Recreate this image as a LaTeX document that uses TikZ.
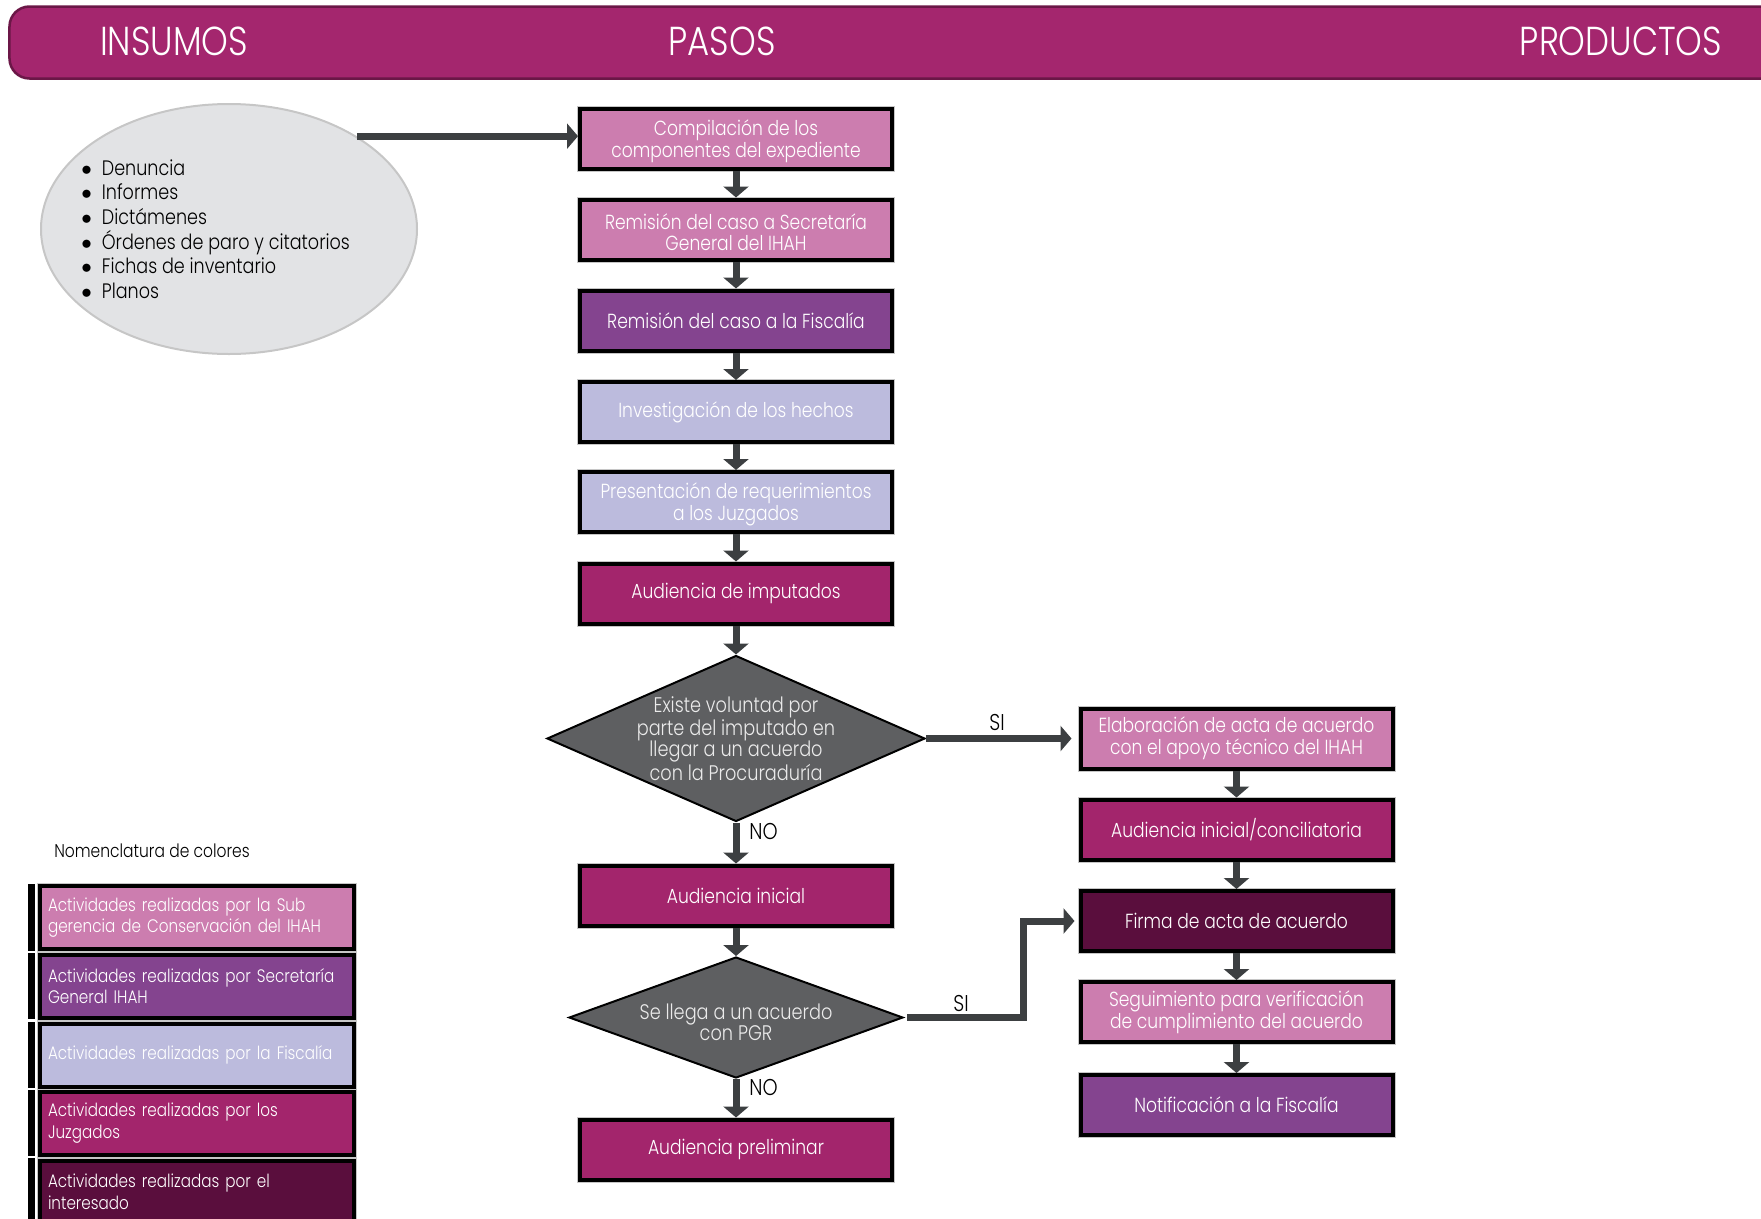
\documentclass[tikz,border=0pt]{standalone}
\usepackage{fontspec}
\setmainfont{Poppins Light}[FakeStretch=0.84]
\usetikzlibrary{shapes.geometric,arrows.meta}
\definecolor{rosa}{HTML}{CC7DAF}
\definecolor{morado}{HTML}{84448F}
\definecolor{lila}{HTML}{BCBBDD}
\definecolor{magenta}{HTML}{A3256C}
\definecolor{vino}{HTML}{5A0E3D}
\definecolor{banda}{HTML}{A4266E}
\definecolor{bordebanda}{HTML}{6B1747}
\definecolor{grisrombo}{HTML}{5E5F61}
\definecolor{grisflecha}{HTML}{3C3F41}
\definecolor{griselipse}{HTML}{E2E3E5}
\newcommand{\punto}{$\bullet$\hspace{0.2cm}}
\begin{document}
\begin{tikzpicture}
    \tikzstyle{paso}=[rectangle,draw=black,line width=0.8mm,minimum width=6.24cm,minimum height=1.2cm,text=white,align=center,inner sep=0pt,font=\fontsize{11.6}{12.3}\selectfont,preaction={draw=gray!45,line width=1.2mm}]
    \tikzstyle{decision}=[diamond,draw=black,line width=0.4mm,fill=grisrombo,text=white!92!black,align=center,inner sep=-0.12cm,font=\fontsize{12}{12.1}\selectfont]
    \tikzstyle{leyenda}=[rectangle,draw=black,line width=0.8mm,text width=5.96cm,inner xsep=0.16cm,minimum height=1.26cm,text=white,align=left,font=\fontsize{10.3}{12.3}\selectfont,preaction={draw=gray!45,line width=1.2mm}]
    \tikzstyle{flecha}=[line width=0.14cm,color=grisflecha,-{Triangle[width=0.5cm,length=0.22cm]}]
    \tikzstyle{etiqueta}=[font=\fontsize{13}{13}\selectfont,inner sep=0pt]
    \tikzstyle{titulo}=[text=white,font=\fontsize{23}{23}\selectfont]
    \useasboundingbox (0,0) rectangle (35.22,-24.36);
    % encabezado
    \node[draw=bordebanda,line width=0.5mm,fill=banda,rounded corners=0.4cm,minimum width=35.8cm,minimum height=1.44cm] (cabecera) at (18.09,-0.85) {};
    \node[titulo] (insumos) at (3.48,-0.82) {INSUMOS};
    \node[titulo] (pasos) at (14.44,-0.82) {PASOS};
    \node[titulo] (productos) at (32.42,-0.82) {PRODUCTOS};
    % insumos
    \node[ellipse,draw=gray!45,line width=0.4mm,fill=griselipse,minimum width=7.52cm,minimum height=5cm] (ins) at (4.58,-4.58) {};
    \node[anchor=west,align=left,inner sep=0pt,font=\fontsize{11.9}{14}\selectfont] (lista) at (1.62,-4.58)
        {\punto Denuncia\\
         \punto Informes\\
         \punto Dictámenes\\
         \punto Órdenes de paro y citatorios\\
         \punto Fichas de inventario\\
         \punto Planos};
    % pasos
    \node[paso,fill=rosa] (c1) at (14.72,-2.77) {\rule{0pt}{0.42cm}Compilación de los\\componentes del expediente};
    \node[paso,fill=rosa] (c2) at (14.72,-4.59) {\rule{0pt}{0.42cm}Remisión del caso a Secretaría\\General del IHAH};
    \node[paso,fill=morado] (c3) at (14.72,-6.41) {Remisión del caso a la Fiscalía};
    \node[paso,fill=lila] (c4) at (14.72,-8.24) {Investigación de los hechos};
    \node[paso,fill=lila] (c5) at (14.72,-10.04) {\rule{0pt}{0.42cm}Presentación de requerimientos\\a los Juzgados};
    \node[paso,fill=magenta] (c6) at (14.72,-11.87) {Audiencia de imputados};
    \node[decision,minimum width=7.56cm,minimum height=3.32cm,aspect=2.28] (d1) at (14.72,-14.77)
        {Existe voluntad por\\parte del imputado en\\llegar a un acuerdo\\con la Procuraduría};
    \node[paso,fill=magenta] (c7) at (14.72,-17.91) {Audiencia inicial};
    \node[decision,minimum width=6.68cm,minimum height=2.42cm,aspect=2.76] (d2) at (14.72,-20.35)
        {\rule{0pt}{0.5cm}Se llega a un acuerdo\\con PGR};
    \node[paso,fill=magenta] (c8) at (14.72,-22.99) {Audiencia preliminar};
    % productos
    \node[paso,fill=rosa] (r1) at (24.73,-14.77) {Elaboración de acta de acuerdo\\con el apoyo técnico del IHAH};
    \node[paso,fill=magenta] (r2) at (24.73,-16.59) {Audiencia inicial/conciliatoria};
    \node[paso,fill=vino] (r3) at (24.73,-18.42) {Firma de acta de acuerdo};
    \node[paso,fill=rosa] (r4) at (24.73,-20.24) {Seguimiento para verificación\\de cumplimiento del acuerdo};
    \node[paso,fill=morado] (r5) at (24.73,-22.10) {Notificación a la Fiscalía};
    % flechas
    \draw[flecha] (ins.36) -- (ins.36 -| c1.west);
    \draw[flecha] (c1.south) -- (c2.north);
    \draw[flecha] (c2.south) -- (c3.north);
    \draw[flecha] (c3.south) -- (c4.north);
    \draw[flecha] (c4.south) -- (c5.north);
    \draw[flecha] (c5.south) -- (c6.north);
    \draw[flecha] (c6.south) -- (d1.north);
    \draw[flecha] (d1.south) -- (c7.north);
    \draw[flecha] (c7.south) -- (d2.north);
    \draw[flecha] (d2.south) -- (c8.north);
    \draw[flecha,shorten >=0.14cm] (d1.east) -- (r1.west);
    \coordinate (codo) at (20.46,-18.42);
    \draw[flecha,shorten >=0.08cm] ([xshift=0.06cm]d2.east) -| (codo) -- (r3.west);
    \draw[flecha] (r1.south) -- (r2.north);
    \draw[flecha] (r2.south) -- (r3.north);
    \draw[flecha] (r3.south) -- (r4.north);
    \draw[flecha] (r4.south) -- (r5.north);
    \node[etiqueta] (si1) at (19.94,-14.44) {SI};
    \node[etiqueta] (si2) at (19.22,-20.06) {SI};
    \node[etiqueta,anchor=west] (no1) at (14.98,-16.62) {NO};
    \node[etiqueta,anchor=west] (no2) at (14.98,-21.74) {NO};
    % nomenclatura
    \node[font=\fontsize{10.5}{10.5}\selectfont] (nomen) at (3.04,-17.02) {Nomenclatura de colores};
    \fill (0.56,-17.68) rectangle (0.70,-19.02);
    \fill (0.56,-19.06) rectangle (0.70,-20.38);
    \fill (0.56,-20.44) rectangle (0.70,-21.76);
    \fill (0.56,-21.80) rectangle (0.70,-23.12);
    \fill (0.56,-23.16) rectangle (0.70,-24.50);
    \node[leyenda,fill=rosa] (l1) at (3.94,-18.35) {\mbox{Actividades realizadas por la Sub}\\\mbox{gerencia de Conservación del IHAH}};
    \node[leyenda,fill=morado] (l2) at (3.94,-19.72) {\mbox{Actividades realizadas por Secretaría}\\\mbox{General IHAH}};
    \node[leyenda,fill=lila] (l3) at (3.94,-21.10) {\mbox{Actividades realizadas por la Fiscalía}};
    \node[leyenda,fill=magenta] (l4) at (3.94,-22.46) {\mbox{Actividades realizadas por los}\\\mbox{Juzgados}};
    \node[leyenda,fill=vino] (l5) at (3.94,-23.84) {\mbox{Actividades realizadas por el}\\\mbox{interesado}};
\end{tikzpicture}
\end{document}
